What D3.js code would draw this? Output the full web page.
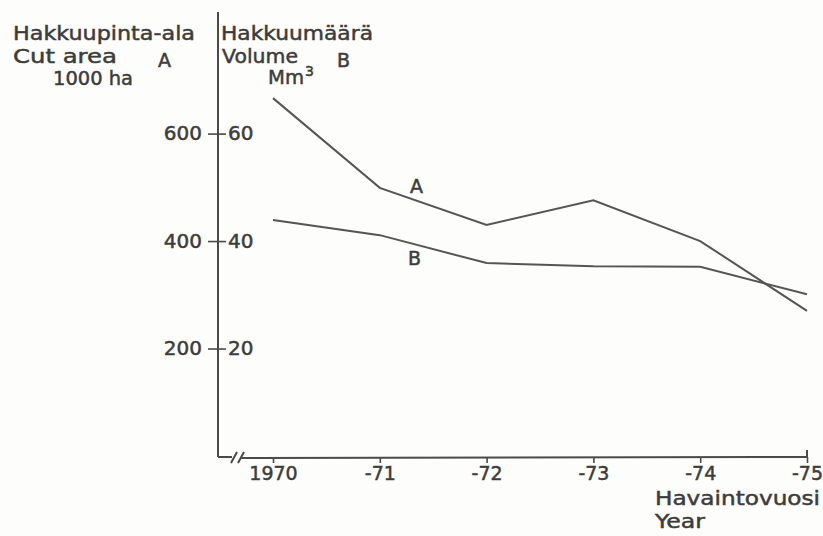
<!DOCTYPE html>
<html lang="fi">
<head>
<meta charset="utf-8">
<title>Hakkuupinta-ala ja hakkuumäärä</title>
<script src="https://cdn.jsdelivr.net/npm/d3@7/dist/d3.min.js"></script>
<style>
  body { margin: 0; background: #fdfdfc; }
  svg { display: block; }
  text { font-family: "DejaVu Sans", sans-serif; fill: #3c3c3c; stroke: #3c3c3c; stroke-width: 0.5px; }
</style>
</head>
<body>
<svg width="823" height="536"></svg>
<script>

// years on the x axis
const years = [1970, 1971, 1972, 1973, 1974, 1975];
const yearLabels = ["1970", "-71", "-72", "-73", "-74", "-75"];

// A: cut area, 1000 ha
const cutArea = [666, 499, 430, 476, 400, 270];
// B: volume, Mm3
const volume = [43.9, 41.1, 35.9, 35.3, 35.2, 30.1];

const areaTicks = [200, 400, 600];
const volumeTicks = [20, 40, 60];

const ink = "#4a4a4a";

const svg = d3.select("svg");

const x = d3.scaleLinear().domain([1970, 1975]).range([273, 807]);
const yA = d3.scaleLinear().domain([0, 830]).range([456, 10]);
const yB = d3.scaleLinear().domain([0, 83]).range([456, 10]);

// vertical axis
svg.append("line")
  .attr("x1", 218).attr("x2", 218)
  .attr("y1", 12).attr("y2", 457)
  .attr("stroke", ink).attr("stroke-width", 2);

// bottom axis with break
svg.append("path")
  .attr("d", "M218,457 L232,457 M231,463 L237,452 M238,463 L244,452 M241,458 L807,457 L807,450")
  .attr("fill", "none")
  .attr("stroke", ink).attr("stroke-width", 2);

const xAxis = svg.append("g")
  .attr("transform", "translate(0,457)")
  .call(d3.axisBottom(x).tickValues(years)
    .tickFormat((d, i) => yearLabels[i])
    .tickSize(6).tickSizeOuter(0).tickPadding(4));
xAxis.select(".domain").remove();
xAxis.selectAll("line").attr("stroke", ink).attr("stroke-width", 1.6);
xAxis.selectAll("text").style("font-size", "19px").attr("fill", "#3c3c3c");

// left ticks (A) and right ticks (B) share the axis
const leftAxis = svg.append("g")
  .attr("transform", "translate(218,0)")
  .call(d3.axisLeft(yA).tickValues(areaTicks).tickSize(10).tickPadding(6));
leftAxis.select(".domain").remove();
leftAxis.selectAll("line").attr("stroke", ink).attr("stroke-width", 1.6);
leftAxis.selectAll("text").style("font-size", "20px").attr("fill", "#3c3c3c");

const rightAxis = svg.append("g")
  .attr("transform", "translate(218,0)")
  .call(d3.axisRight(yB).tickValues(volumeTicks).tickSize(8).tickPadding(2));
rightAxis.select(".domain").remove();
rightAxis.selectAll("line").attr("stroke", ink).attr("stroke-width", 1.6);
rightAxis.selectAll("text").style("font-size", "20px").attr("fill", "#3c3c3c");

// lines
const lineA = d3.line().x((d, i) => x(years[i])).y(d => yA(d));
const lineB = d3.line().x((d, i) => x(years[i])).y(d => yB(d));

svg.append("path").datum(cutArea)
  .attr("d", lineA)
  .attr("fill", "none").attr("stroke", "#555").attr("stroke-width", 2);

svg.append("path").datum(volume)
  .attr("d", lineB)
  .attr("fill", "none").attr("stroke", "#555").attr("stroke-width", 2);

// labels
function label(txt, px, py, size, len, anchor) {
  const t = svg.append("text")
    .attr("x", px).attr("y", py)
    .style("font-size", size + "px")
    .attr("text-anchor", anchor || "start")
    .text(txt);
  if (len) t.attr("textLength", len).attr("lengthAdjust", "spacingAndGlyphs");
  return t;
}

label("Hakkuupinta-ala", 13, 40, 20, 182);
label("Cut area", 13, 63, 20, 104);
label("1000 ha", 53, 85, 20, 80);
label("A", 158, 67, 19);

label("Hakkuumäärä", 221, 40, 20, 152);
label("Volume", 222, 63, 20, 76);
label("Mm", 268, 84, 20, 36);
label("3", 305, 76, 14);
label("B", 337, 67, 19);

label("A", 410, 193, 19);
label("B", 408, 265, 19);

label("Havaintovuosi", 655, 505, 20, 165);
label("Year", 655, 528, 20, 50);

</script>
</body>
</html>
